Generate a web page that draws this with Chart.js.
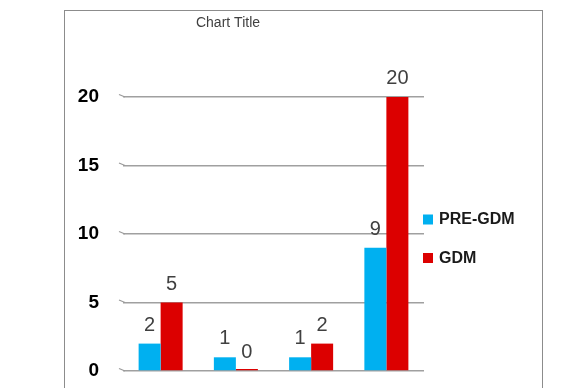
<!DOCTYPE html>
<html>
<head>
<meta charset="utf-8">
<script src="https://cdn.jsdelivr.net/npm/chart.js@4/dist/chart.umd.min.js"></script>
<style>
  html, body { margin: 0; padding: 0; background: #fff; overflow: hidden; }
  #wrap { position: relative; width: 588px; height: 388px; }
  #frame { position: absolute; left: 64px; top: 10px; width: 477px; height: 420px; border: 1px solid #8c8c8c; }
  canvas { position: absolute; left: 0; top: 0; }
</style>
</head>
<body>
<div id="wrap">
  <div id="frame"></div>
  <canvas id="c" width="588" height="388"></canvas>
</div>
<script>
// Groups along the x axis and the two series
const categories = ['1', '2', '3', '4'];
const preGdm = [2, 1, 1, 9];
const gdm = [5, 0, 2, 20];
const yTicks = [0, 5, 10, 15, 20];
const seriesNames = ['PRE-GDM', 'GDM'];
const seriesColors = ['#00b0f0', '#dc0000'];

const FONT = '"Liberation Sans", Arial, sans-serif';

// Title, data labels, little perspective ticks and the legend
const decorations = {
  id: 'decorations',
  afterDatasetsDraw(chart) {
    const { ctx, chartArea, scales } = chart;
    ctx.save();

    // slanted floor ticks at the start of each gridline
    ctx.strokeStyle = '#9a9a9a';
    ctx.lineWidth = 1.2;
    yTicks.forEach(v => {
      const y = scales.y.getPixelForValue(v);
      ctx.beginPath();
      ctx.moveTo(chartArea.left - 4, y - 2.5);
      ctx.lineTo(chartArea.left + 2, y);
      ctx.stroke();
    });

    // value labels above the bars
    ctx.fillStyle = '#404040';
    ctx.font = '20px ' + FONT;
    ctx.textAlign = 'center';
    ctx.textBaseline = 'alphabetic';
    chart.data.datasets.forEach((ds, di) => {
      chart.getDatasetMeta(di).data.forEach((bar, i) => {
        const top = scales.y.getPixelForValue(ds.data[i]);
        ctx.fillText(String(ds.data[i]), bar.x, top - 13);
      });
    });

    // chart title
    ctx.font = '14px ' + FONT;
    ctx.fillStyle = '#404040';
    ctx.textBaseline = 'middle';
    ctx.fillText('Chart Title', 228, 23);

    // legend
    ctx.textAlign = 'left';
    ctx.font = 'bold 16px ' + FONT;
    const legendY = [219.5, 258];
    chart.data.datasets.forEach((ds, di) => {
      ctx.fillStyle = ds.backgroundColor;
      ctx.fillRect(423, legendY[di] - 5, 10, 10);
      ctx.fillStyle = '#1a1a1a';
      ctx.fillText(ds.label, 439, legendY[di] + 0.5);
    });
    ctx.restore();
  }
};

new Chart(document.getElementById('c'), {
  type: 'bar',
  data: {
    labels: categories,
    datasets: [
      { label: seriesNames[0], data: preGdm, backgroundColor: seriesColors[0] },
      { label: seriesNames[1], data: gdm, backgroundColor: seriesColors[1], minBarLength: 2 }
    ]
  },
  options: {
    responsive: false,
    animation: false,
    events: [],
    categoryPercentage: 0.585,
    barPercentage: 1,
    layout: { padding: { left: 0, right: 164, top: 97, bottom: 17 } },
    plugins: {
      legend: { display: false },
      title: { display: false },
      tooltip: { enabled: false }
    },
    scales: {
      x: {
        display: false,
        offset: true
      },
      y: {
        min: 0,
        max: 20,
        afterFit(scale) {
          scale.width = 123;
          scale.paddingTop = 0;
          scale.paddingBottom = 0;
        },
        afterBuildTicks(scale) { scale.ticks = yTicks.map(v => ({ value: v })); },
        border: { display: false },
        grid: { color: '#a0a0a0', lineWidth: 1.5, drawTicks: false },
        ticks: {
          padding: 24,
          color: '#000',
          font: { family: FONT, size: 19, weight: 'bold' }
        }
      }
    }
  },
  plugins: [decorations]
});
</script>
</body>
</html>
